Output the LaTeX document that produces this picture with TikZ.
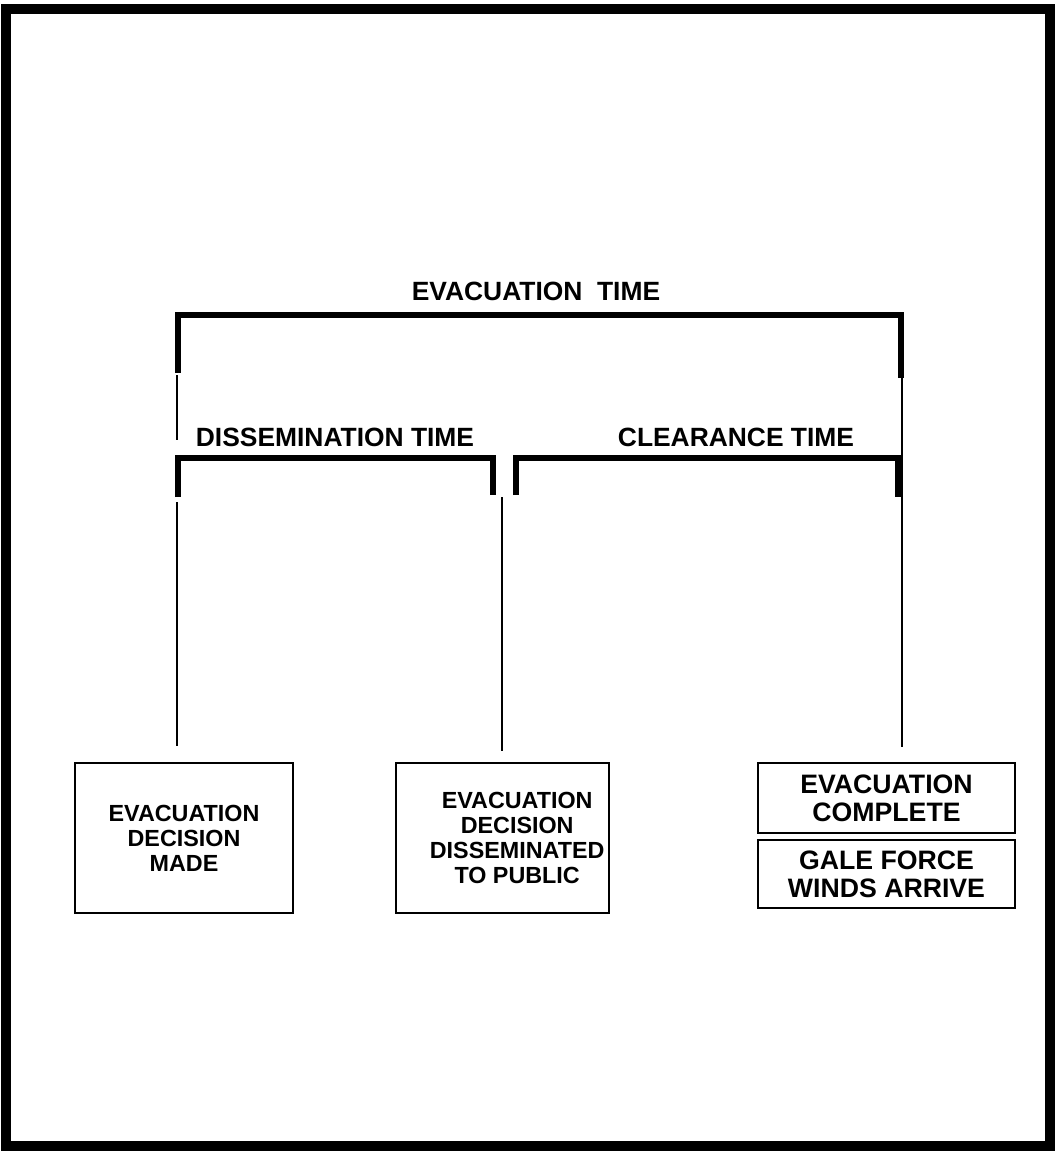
\documentclass[tikz,border=0pt]{standalone}
\usepackage{fontspec}
\setmainfont{Liberation Sans}
\usetikzlibrary{positioning}
\begin{document}
\begin{tikzpicture}[x=0.75pt,y=-0.75pt,
 box/.style={draw,line width=1.4pt,align=center,inner sep=0pt,font=\fontsize{17.5}{18.7}\selectfont\bfseries},
 bigbox/.style={box,font=\fontsize{20}{21}\selectfont\bfseries},
 head/.style={inner sep=0pt,font=\fontsize{19.8}{22}\selectfont\bfseries},
 brk/.style={line width=5pt,line join=miter,line cap=butt},
 tie/.style={line width=1.1pt}]
\useasboundingbox (0,0) rectangle (1056,1152);
\draw[line width=8pt] (6,9) rectangle (1050,1146);
\node[head] (evac) at (536,291) {EVACUATION\ \ TIME};
\node[head] (dissem) at (335,437) {DISSEMINATION TIME};
\node[head] (clear) at (736,437) {CLEARANCE TIME};
\node[box,minimum width=163.5pt,minimum height=112.5pt] (made) at (184,838) {EVACUATION\\DECISION\\MADE};
\node[box,minimum width=159.75pt,minimum height=112.5pt] (public) at (502.5,838) {};
\node[box,draw=none] (pubtxt) at ([xshift=11pt]public.center) {EVACUATION\\DECISION\\DISSEMINATED\\TO PUBLIC};
\node[bigbox,minimum width=192.75pt,minimum height=52.5pt] (done) at (886.5,798) {EVACUATION\\COMPLETE};
\node[bigbox,minimum width=192.75pt,minimum height=51pt,below=3.75pt of done] (gale) {GALE FORCE\\WINDS ARRIVE};
\coordinate (top) at (0,315); \coordinate (mid) at (0,458);
\coordinate (et1) at (178,373); \coordinate (et2) at (901,378);
\coordinate (dt1) at (178,497); \coordinate (dt2) at (493,495);
\coordinate (ct1) at (516,495); \coordinate (ct2) at (898,497);
\draw[brk] (et1) |- (et2 |- top) -- (et2);
\draw[brk] (dt1) |- (dt2 |- mid) -- (dt2);
\draw[brk] (ct1) |- (ct2 |- mid) -- (ct2);
\coordinate (l1) at (177,375); \coordinate (l2) at (177,440);
\coordinate (l3) at (177,502); \coordinate (m1) at (502,497);
\coordinate (r1) at (902,378);
\draw[tie] (l1) -- (l2);
\draw[tie] (l3) -- ([yshift=12pt]made.north -| l3);
\draw[tie] (m1) -- ([yshift=8pt]public.north -| m1);
\draw[tie] (r1) -- ([yshift=11pt]done.north -| r1);
\draw[tie] (ct2 |- mid) -- (r1 |- mid);
\end{tikzpicture}
\end{document}
